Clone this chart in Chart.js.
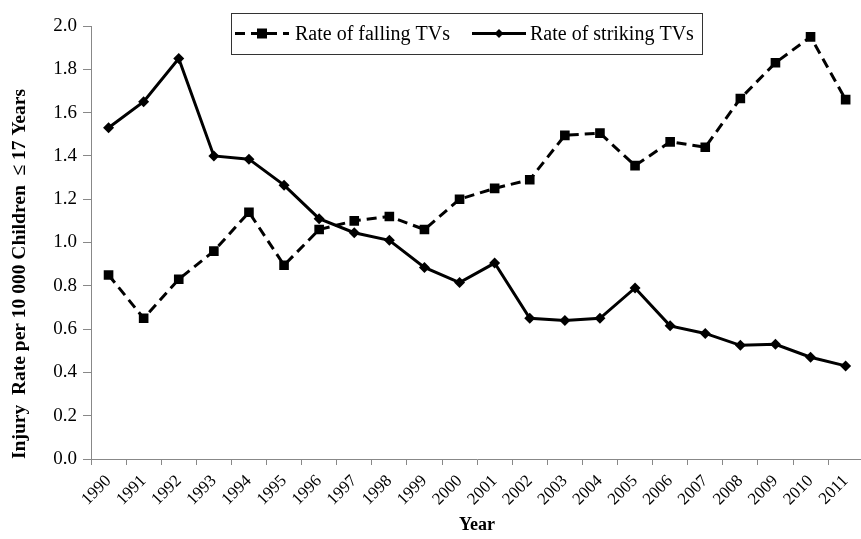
<!DOCTYPE html>
<html>
<head>
<meta charset="utf-8">
<script src="https://cdn.jsdelivr.net/npm/chart.js@4.4.0/dist/chart.umd.min.js"></script>
<style>
html,body{margin:0;padding:0;background:#fff;overflow:hidden;}
#wrap{width:861px;height:539px;position:relative;overflow:hidden;}
#c{position:absolute;left:0;top:0;}
</style>
</head>
<body>
<div id="wrap"><canvas id="c" width="870" height="539"></canvas></div>
<script>
const years = ["1990","1991","1992","1993","1994","1995","1996","1997","1998","1999","2000","2001","2002","2003","2004","2005","2006","2007","2008","2009","2010","2011"];
const fallingRate = [0.85,0.65,0.83,0.96,1.14,0.895,1.06,1.10,1.12,1.06,1.20,1.25,1.29,1.495,1.505,1.355,1.465,1.44,1.665,1.83,1.95,1.66];
const strikingRate = [1.53,1.65,1.85,1.40,1.385,1.265,1.11,1.045,1.01,0.885,0.815,0.905,0.65,0.64,0.65,0.79,0.615,0.58,0.525,0.53,0.47,0.43];
const yTicks = [0,0.2,0.4,0.6,0.8,1.0,1.2,1.4,1.6,1.8,2.0];

const FONT = "'Liberation Serif', 'Times New Roman', serif";

const boxLegend = {
  id: 'boxLegend',
  afterDraw(chart) {
    const ctx = chart.ctx;
    const ds = chart.data.datasets;
    const x0 = 231, y0 = 13, w = 471, h = 41;
    const cy = y0 + h / 2;
    ctx.save();
    ctx.fillStyle = '#fff';
    ctx.fillRect(x0, y0, w, h);
    ctx.strokeStyle = '#333';
    ctx.lineWidth = 1;
    ctx.strokeRect(x0 + 0.5, y0 + 0.5, w, h);
    ctx.font = '20px ' + FONT;
    ctx.textBaseline = 'middle';
    ctx.fillStyle = '#000';
    const items = [
      {ds: ds[0], lx: 235, lw: 54, tx: 295},
      {ds: ds[1], lx: 472, lw: 54, tx: 530}
    ];
    items.forEach(it => {
      ctx.strokeStyle = '#000';
      ctx.lineWidth = 3;
      ctx.setLineDash(it.ds.borderDash || []);
      ctx.beginPath();
      ctx.moveTo(it.lx, cy);
      ctx.lineTo(it.lx + it.lw, cy);
      ctx.stroke();
      ctx.setLineDash([]);
      const mx = it.lx + it.lw / 2;
      ctx.fillStyle = '#000';
      ctx.beginPath();
      if (it.ds.pointStyle === 'rect') {
        ctx.rect(mx - 5, cy - 5, 10, 10);
      } else {
        ctx.moveTo(mx, cy - 4.5); ctx.lineTo(mx + 4.5, cy); ctx.lineTo(mx, cy + 4.5); ctx.lineTo(mx - 4.5, cy); ctx.closePath();
      }
      ctx.fill();
      ctx.fillText(it.ds.label, it.tx, cy + 1);
    });
    ctx.restore();
  }
};

new Chart(document.getElementById('c'), {
  type: 'line',
  data: {
    labels: years,
    datasets: [
      {
        label: 'Rate of falling TVs',
        data: fallingRate,
        borderColor: '#000',
        backgroundColor: '#000',
        borderWidth: 3,
        borderDash: [10, 6],
        pointStyle: 'rect',
        pointRadius: 6.8,
        pointBorderWidth: 0,
        tension: 0
      },
      {
        label: 'Rate of striking TVs',
        data: strikingRate,
        borderColor: '#000',
        backgroundColor: '#000',
        borderWidth: 3,
        pointStyle: 'rectRot',
        pointRadius: 5.5,
        pointBorderWidth: 0,
        tension: 0
      }
    ]
  },
  options: {
    responsive: false,
    animation: false,
    devicePixelRatio: 1,
    layout: { padding: { top: 26, right: 4, left: 2, bottom: 0 } },
    plugins: {
      legend: { display: false },
      tooltip: { enabled: false }
    },
    scales: {
      x: {
        offset: true,
        afterFit(scale) { scale.height = 80; },
        grid: { offset: true, drawOnChartArea: false, drawTicks: true, tickLength: 6, color: '#888', lineWidth: 1 },
        border: { color: '#888', width: 1 },
        ticks: { color: '#000', font: { family: FONT, size: 17 }, maxRotation: 45, minRotation: 45, autoSkip: false, padding: 6 },
        title: { display: true, text: 'Year', color: '#000', font: { family: FONT, size: 18, weight: 'bold' }, padding: { top: 0, bottom: 3 } }
      },
      y: {
        min: 0, max: 2.0,
        afterFit(scale) { scale.width = 89; },
        afterBuildTicks(scale) { scale.ticks = yTicks.map(v => ({ value: v })); },
        grid: { drawOnChartArea: false, drawTicks: true, tickLength: 8, color: '#888', lineWidth: 1 },
        border: { color: '#888', width: 1 },
        ticks: { color: '#000', font: { family: FONT, size: 19 }, padding: 6, callback: v => Number(v).toFixed(1) },
        title: { display: true, align: 'start', text: 'Injury  Rate per 10 000 Children  \u2264 17 Years', color: '#000', font: { family: FONT, size: 19.5, weight: 'bold' }, padding: { top: 6, bottom: 0 } }
      }
    }
  },
  plugins: [boxLegend]
});
</script>
</body>
</html>
